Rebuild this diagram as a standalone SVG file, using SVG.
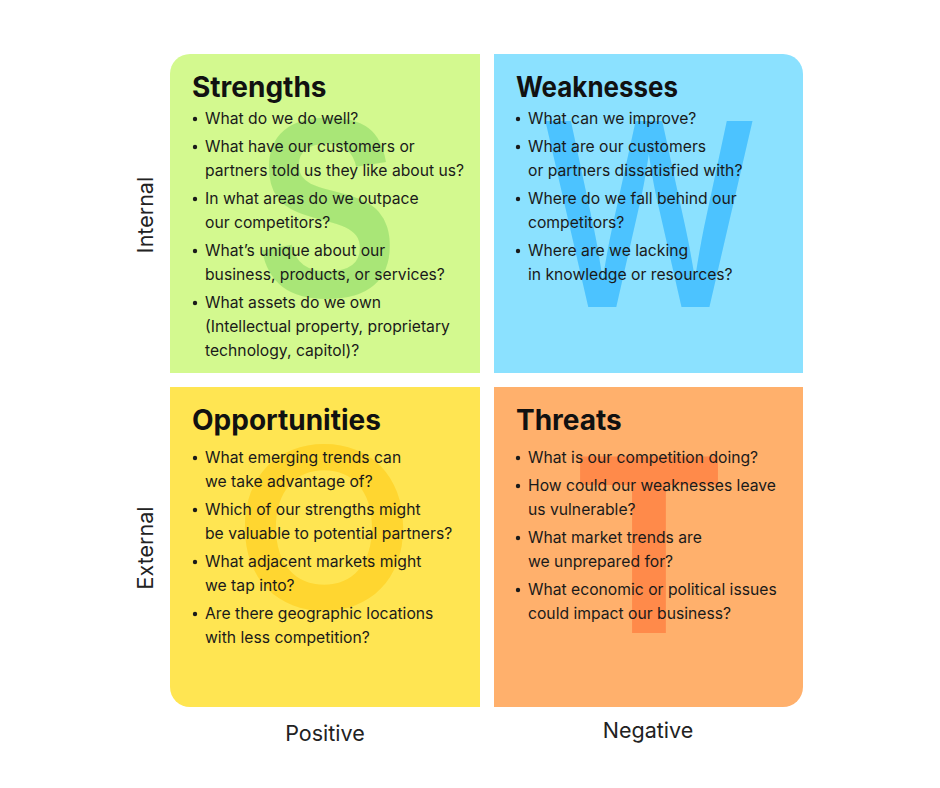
<svg xmlns="http://www.w3.org/2000/svg" width="940" height="788" viewBox="0 0 940 788">
<style>
.title{font-family:Inter,"Liberation Sans",sans-serif;font-weight:700;font-size:28px;fill:#111}
.item{font-family:Inter,"Liberation Sans",sans-serif;font-size:15.7px;fill:#1a1a1a}
.axis{font-family:Inter,"Liberation Sans",sans-serif;font-size:21.5px;fill:#222}
.big{font-family:"Liberation Sans",sans-serif;font-weight:700;font-size:256px}
</style>
<defs>
<symbol id="dot" overflow="visible"><circle r="2.2" fill="#1a1a1a"/></symbol>
</defs>
<rect width="940" height="788" fill="#fff"/>
<g id="strengths">
<path d="M190 54H480V373H170V74A20 20 0 0 1 190 54Z" fill="#D3F98F"/>
<text class="big" x="327" y="297" text-anchor="middle" fill="#A9E677" textLength="142" lengthAdjust="spacingAndGlyphs">S</text>
<text class="title" x="192" y="97">Strengths</text>
<g class="item">
<use href="#dot" x="195" y="119"/><text x="205" y="124">What do we do well?</text>
<use href="#dot" x="195" y="147"/><text x="205" y="152">What have our customers or</text>
<text x="205" y="176">partners told us they like about us?</text>
<use href="#dot" x="195" y="199"/><text x="205" y="204">In what areas do we outpace</text>
<text x="205" y="228">our competitors?</text>
<use href="#dot" x="195" y="251"/><text x="205" y="256">What’s unique about our</text>
<text x="205" y="280">business, products, or services?</text>
<use href="#dot" x="195" y="303"/><text x="205" y="308">What assets do we own</text>
<text x="205" y="332">(Intellectual property, proprietary</text>
<text x="205" y="356">technology, capitol)?</text>
</g>
</g>
<g id="weaknesses">
<path d="M494 54H783A20 20 0 0 1 803 74V373H494Z" fill="#8BE1FF"/>
<text x="649" y="307" text-anchor="middle" fill="#4CC3FF" style="font-family:Inter,'Liberation Sans',sans-serif;font-weight:500;font-size:256px" textLength="218" lengthAdjust="spacingAndGlyphs">W</text>
<text class="title" x="516" y="97" textLength="162" lengthAdjust="spacingAndGlyphs">Weaknesses</text>
<g class="item">
<use href="#dot" x="518" y="119"/><text x="528" y="124">What can we improve?</text>
<use href="#dot" x="518" y="147"/><text x="528" y="152">What are our customers</text>
<text x="528" y="176">or partners dissatisfied with?</text>
<use href="#dot" x="518" y="199"/><text x="528" y="204">Where do we fall behind our</text>
<text x="528" y="228">competitors?</text>
<use href="#dot" x="518" y="251"/><text x="528" y="256">Where are we lacking</text>
<text x="528" y="280">in knowledge or resources?</text>
</g>
</g>
<g id="opportunities">
<path d="M170 387H480V707H190A20 20 0 0 1 170 687Z" fill="#FFE552"/>
<text x="324" y="609" text-anchor="middle" fill="#FFD630" style="font-family:Inter,'Liberation Sans',sans-serif;font-weight:600;font-size:224px" textLength="182" lengthAdjust="spacingAndGlyphs">O</text>
<text class="title" x="192" y="430">Opportunities</text>
<g class="item">
<use href="#dot" x="195" y="458"/><text x="205" y="463">What emerging trends can</text>
<text x="205" y="487">we take advantage of?</text>
<use href="#dot" x="195" y="510"/><text x="205" y="515">Which of our strengths might</text>
<text x="205" y="539">be valuable to potential partners?</text>
<use href="#dot" x="195" y="562"/><text x="205" y="567">What adjacent markets might</text>
<text x="205" y="591">we tap into?</text>
<use href="#dot" x="195" y="614"/><text x="205" y="619">Are there geographic locations</text>
<text x="205" y="643">with less competition?</text>
</g>
</g>
<g id="threats">
<path d="M494 387H803V687A20 20 0 0 1 783 707H494Z" fill="#FFB06C"/>
<text class="big" x="649" y="633" text-anchor="middle" fill="#FF8A4A" textLength="143" lengthAdjust="spacingAndGlyphs">T</text>
<text class="title" x="516" y="430">Threats</text>
<g class="item">
<use href="#dot" x="518" y="458"/><text x="528" y="463">What is our competition doing?</text>
<use href="#dot" x="518" y="486"/><text x="528" y="491">How could our weaknesses leave</text>
<text x="528" y="515">us vulnerable?</text>
<use href="#dot" x="518" y="538"/><text x="528" y="543">What market trends are</text>
<text x="528" y="567">we unprepared for?</text>
<use href="#dot" x="518" y="590"/><text x="528" y="595">What economic or political issues</text>
<text x="528" y="619">could impact our business?</text>
</g>
</g>
<g id="axes">
<text class="axis" transform="translate(153 215) rotate(-90)" text-anchor="middle">Internal</text>
<text class="axis" transform="translate(153 548) rotate(-90)" text-anchor="middle">External</text>
<text class="axis" x="325" y="741" text-anchor="middle">Positive</text>
<text class="axis" x="648" y="738" text-anchor="middle">Negative</text>
</g>
</svg>
